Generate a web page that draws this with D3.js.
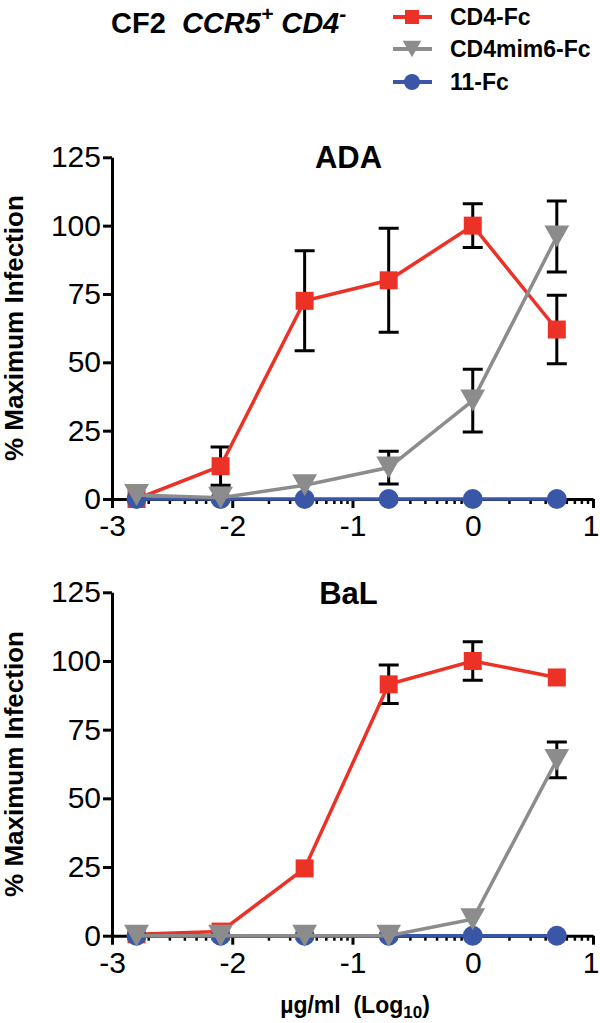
<!DOCTYPE html>
<html><head><meta charset="utf-8">
<script src="https://cdn.jsdelivr.net/npm/d3@7"></script>
<style>
html,body{margin:0;padding:0;background:#fff;}
svg{display:block;font-family:"Liberation Sans",Arial,Helvetica,sans-serif;}
</style></head>
<body>
<svg id="chart" width="600" height="1023"></svg>
<script>
// ---- data ----
const doses = [-2.796, -2.097, -1.398, -0.699, 0, 0.699];   // log10 µg/ml
const xTicks = [-3, -2, -1, 0, 1];
const yTicks = [0, 25, 50, 75, 100, 125];
const seriesNames = ["CD4-Fc", "CD4mim6-Fc", "11-Fc"];
const seriesColors = ["#ec3226", "#8c8c8c", "#3a57a7"];
const panelNames = ["ADA", "BaL"];

const adaCD4     = [0, 12, 72.5, 80, 100, 62];
const adaCD4Err  = [0, 7, 18.3, 19, 8, 12.5];
const adaMim     = [1.5, 0.5, 5, 11.5, 36, 96];
const adaMimErr  = [0, 0, 0, 6, 11.5, 13];
const ada11      = [0, 0, 0, 0, 0, 0];
const ada11Err   = [0, 0, 0, 0, 0, 0];

const balCD4     = [0.5, 1.5, 24.5, 91.5, 100, 94];
const balCD4Err  = [0, 0, 0, 7, 7, 0];
const balMim     = [0, 0, 0, 0, 6, 64];
const balMimErr  = [0, 0, 0, 0, 0, 6.5];
const bal11      = [0, 0, 0, 0, 0, 0];
const bal11Err   = [0, 0, 0, 0, 0, 0];

const panels = [
  {name: panelNames[0], vals: [adaCD4, adaMim, ada11], errs: [adaCD4Err, adaMimErr, ada11Err], y0: 499, y1: 157.3, titleY: 168},
  {name: panelNames[1], vals: [balCD4, balMim, bal11], errs: [balCD4Err, balMimErr, bal11Err], y0: 935.7, y1: 592.3, titleY: 604}
];

const svg = d3.select("#chart");
const x = d3.scaleLinear().domain([-3, 1]).range([112, 593]);
const minorTicks = [];
for (let d = -3; d < 1; d++) for (let k = 2; k <= 9; k++) minorTicks.push(d + Math.log10(k));

function symbolPath(i, s) {
  if (i === 0) return `M${-s/2},${-s/2}H${s/2}V${s/2}H${-s/2}Z`;
  if (i === 1) { const w = s * 0.62, h = s * 0.55; return `M${-w},${-h}L${w},${-h}L0,${h}Z`; }
  const r = s / 2; return `M${-r},0A${r},${r} 0 1,0 ${r},0A${r},${r} 0 1,0 ${-r},0Z`;
}
const markerSize = [18, 20, 20];

panels.forEach(p => {
  const y = d3.scaleLinear().domain([0, 125]).range([p.y0, p.y1]);
  const g = svg.append("g");

  // axes
  const ya = g.append("g").attr("transform", `translate(${x(-3)},0)`)
    .call(d3.axisLeft(y).tickValues(yTicks).tickSize(9).tickSizeOuter(0).tickPadding(2));
  const xa = g.append("g").attr("transform", `translate(0,${y(0)})`)
    .call(d3.axisBottom(x).tickValues(xTicks).tickSize(9).tickSizeOuter(0).tickPadding(7).tickFormat(d => String(d)));
  const xm = g.append("g").attr("transform", `translate(0,${y(0)})`)
    .call(d3.axisBottom(x).tickValues(minorTicks).tickSize(5).tickSizeOuter(0).tickFormat(""));
  xm.select(".domain").remove();
  [ya, xa, xm].forEach(a => {
    a.selectAll("path,line").attr("stroke", "#000").attr("stroke-width", 3);
    a.selectAll("text").attr("font-size", 30).attr("fill", "#000").attr("font-family", "Liberation Sans, Arial, sans-serif");
  });
  xa.selectAll(".tick text").filter(d => d === 1).attr("dx", -2.5);
  xm.selectAll("line").attr("stroke-width", 2.5);

  // y title
  g.append("text").attr("transform", `translate(23,${(p.y0 + p.y1) / 2}) rotate(-90)`)
    .attr("text-anchor", "middle").attr("font-weight", "bold").attr("font-size", 26)
    .text("% Maximum Infection");
  // panel title
  g.append("text").attr("x", (x(-3) + x(1)) / 2 - 4).attr("y", p.titleY)
    .attr("text-anchor", "middle").attr("font-weight", "bold").attr("font-size", 31).text(p.name);

  // error bars
  p.vals.forEach((vals, si) => {
    const errs = p.errs[si];
    doses.forEach((d, i) => {
      if (errs[i] <= 0) return;
      const cx = x(d), yt = y(vals[i] + errs[i]), yb = y(vals[i] - errs[i]);
      g.append("path").attr("d", `M${cx},${yt}V${yb}M${cx - 10},${yt}H${cx + 10}M${cx - 10},${yb}H${cx + 10}`)
        .attr("stroke", "#000").attr("stroke-width", 3).attr("fill", "none");
    });
  });

  // lines + markers; order: red, blue, gray
  [0, 2, 1].forEach(si => {
    const vals = p.vals[si];
    const line = d3.line().x((d, i) => x(doses[i])).y(d => y(d));
    g.append("path").datum(vals).attr("d", line).attr("fill", "none")
      .attr("stroke", seriesColors[si]).attr("stroke-width", 3.5);
    g.selectAll(null).data(vals).enter().append("path")
      .attr("transform", (d, i) => `translate(${x(doses[i])},${y(d)})`)
      .attr("d", symbolPath(si, markerSize[si])).attr("fill", seriesColors[si]);
  });
});

// x axis title
const xl = svg.append("text").attr("x", 355).attr("y", 1013).attr("text-anchor", "middle")
  .attr("font-weight", "bold").attr("font-size", 23);
xl.append("tspan").text("\u00b5g/ml\u00a0\u00a0(Log");
xl.append("tspan").attr("font-size", 17).attr("dy", 5).text("10");
xl.append("tspan").attr("dy", -5).text(")");

// header title
const tt = svg.append("text").attr("x", 111).attr("y", 33).attr("font-weight", "bold").attr("font-size", 29);
tt.append("tspan").text("CF2\u00a0\u00a0");
tt.append("tspan").attr("font-style", "italic").text("CCR5");
tt.append("tspan").attr("font-style", "italic").attr("font-size", 21).attr("dy", -12).text("+");
tt.append("tspan").attr("font-style", "italic").attr("dy", 12).text("\u00a0CD4");
tt.append("tspan").attr("font-style", "italic").attr("font-size", 21).attr("dy", -12).text("-");

// legend
const legBase = [25, 57, 90];
const legSize = [14, 15, 16];
seriesNames.forEach((n, si) => {
  const ly = legBase[si] - 8;
  svg.append("line").attr("x1", 393).attr("x2", 432).attr("y1", ly).attr("y2", ly)
    .attr("stroke", seriesColors[si]).attr("stroke-width", 4);
  svg.append("path").attr("transform", `translate(412,${ly})`).attr("d", symbolPath(si, legSize[si]))
    .attr("fill", seriesColors[si]);
  svg.append("text").attr("x", 450).attr("y", legBase[si]).attr("font-weight", "bold")
    .attr("font-size", 23).text(n);
});
</script>
</body></html>
